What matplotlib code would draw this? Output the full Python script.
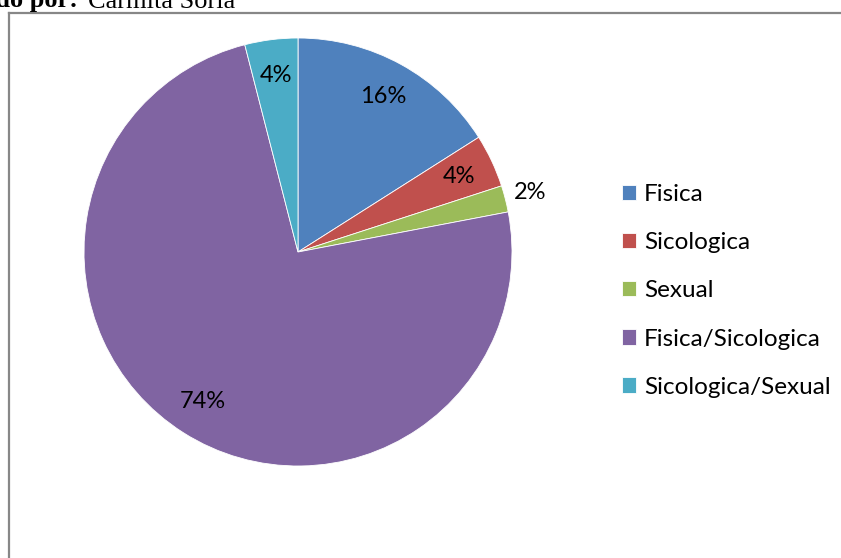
import numpy as np
import matplotlib.pyplot as plt
from matplotlib.lines import Line2D

# -----------------------------
# Datos
# -----------------------------
categorias = ['Fisica', 'Sicologica', 'Sexual', 'Fisica/Sicologica', 'Sicologica/Sexual']
porcentajes = [16, 4, 2, 74, 4]
colores = ['#4F81BD', '#C0504D', '#9BBB59', '#8064A2', '#4BACC6']

W, H = 841, 558
fig = plt.figure(figsize=(W / 100, H / 100), dpi=100)

# borde del grafico (cortado a la derecha y abajo)
gris = '#878787'
fig.add_artist(Line2D([9 / W, 1.0], [1 - 13 / H, 1 - 13 / H], transform=fig.transFigure,
                      color=gris, linewidth=1.6))
fig.add_artist(Line2D([9 / W, 9 / W], [0.0, 1 - 13 / H], transform=fig.transFigure,
                      color=gris, linewidth=1.6))

# texto superior cortado
fig.text(78 / W, 1 - 7.5 / H, 'ado por:', ha='right', va='baseline',
         family='Liberation Serif', weight='bold', fontsize=19)
fig.text(88 / W, 1 - 7.5 / H, 'Carmita Soria', ha='left', va='baseline',
         family='Liberation Serif', fontsize=19)

# -----------------------------
# Pastel
# -----------------------------
cx, cy, r = 298, 252, 214
ax = fig.add_axes([(cx - r) / W, (H - cy - r) / H, 2 * r / W, 2 * r / H])
wedges, textos, autotextos = ax.pie(
    porcentajes, colors=colores, startangle=90, counterclock=False,
    autopct='%1.0f%%', pctdistance=0.83, radius=1,
    wedgeprops=dict(edgecolor='white', linewidth=0.6),
    textprops=dict(fontsize=17, family='Lato', color='black'))
ax.set_xlim(-1, 1)
ax.set_ylim(-1, 1)

# la etiqueta del 2% va afuera
for w, t, p in zip(wedges, autotextos, porcentajes):
    if p <= 2:
        ang = np.deg2rad((w.theta1 + w.theta2) / 2)
        t.set_position((1.12 * np.cos(ang), 1.12 * np.sin(ang)))

# leyenda
fig.legend(wedges, categorias, loc='upper left', bbox_to_anchor=(600 / W, 1 - 162 / H),
           frameon=False, prop=dict(family='Lato', size=17.5),
           handlelength=0.6, handleheight=0.6, handletextpad=0.3, labelspacing=1.12)

fig.savefig('out.png', dpi=100)
